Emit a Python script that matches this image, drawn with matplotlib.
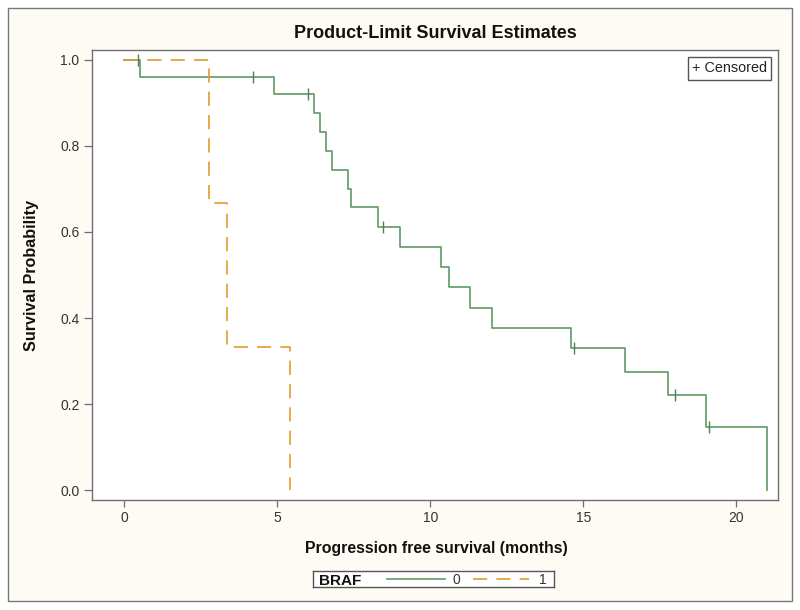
import matplotlib
matplotlib.use("Agg")
import matplotlib.pyplot as plt
from matplotlib.patches import Rectangle
from matplotlib.lines import Line2D

plt.rcParams['font.family'] = ['Liberation Sans', 'DejaVu Sans']

# BRAF = 0 (green, solid): step times and survival after each step
t0 = [0, 0.5, 4.9, 6.2, 6.4, 6.6, 6.8, 7.3, 7.4, 8.3, 9.0, 10.35, 10.6,
      11.3, 12.0, 14.6, 16.35, 17.75, 19.0, 21.0]
s0 = [1.0, 0.96, 0.92, 0.876, 0.832, 0.788, 0.744, 0.701, 0.657, 0.612,
      0.566, 0.519, 0.471, 0.424, 0.377, 0.330, 0.275, 0.220, 0.147, 0.0]
cens_t0 = [0.45, 4.2, 6.0, 8.45, 14.7, 18.0, 19.1]
cens_s0 = [1.0, 0.96, 0.92, 0.612, 0.330, 0.220, 0.147]

# BRAF = 1 (orange, dashed)
t1 = [0, 2.75, 3.36, 5.42]
s1 = [1.0, 0.667, 0.333, 0.0]

xticks = [0, 5, 10, 15, 20]
yticks = [0.0, 0.2, 0.4, 0.6, 0.8, 1.0]

green = '#5f9a62'
orange = '#e39a2d'
cream = '#fefbf4'
grey = '#6e6e6e'
txt = '#333333'

W, H = 800, 610
fig = plt.figure(figsize=(8, 6.1), dpi=100, facecolor='white')

# outer cream frame
fig.patches.append(Rectangle((8 / W, 1 - 601 / H), 784 / W, 593 / H,
                             transform=fig.transFigure, facecolor=cream,
                             edgecolor='#777777', linewidth=1.0, zorder=-10))

ax = fig.add_axes([92 / W, 1 - 500 / H, 686 / W, 450 / H])
ax.set_facecolor('white')

ax.step(t0, s0, where='post', color=green, linewidth=1.2)
ax.step(t1, s1, where='post', color=orange, linewidth=1.2, dashes=(8.5, 5.5))
ax.plot(cens_t0, cens_s0, linestyle='none', marker='|', markersize=8,
        markeredgewidth=1.0, color='#4f7f52')

ax.set_xlim(-1.06, 21.36)
ax.set_ylim(-0.023, 1.023)
ax.set_xticks(xticks)
ax.set_xticklabels([str(v) for v in xticks])
ax.set_yticks(yticks)
ax.set_yticklabels([f'{v:.1f}' for v in yticks])
ax.tick_params(direction='out', width=0.9, color=grey,
               labelsize=10, labelcolor=txt, pad=3)
ax.tick_params(axis='y', length=6)
ax.tick_params(axis='x', length=5)
for sp in ax.spines.values():
    sp.set_color(grey)
    sp.set_linewidth(1.0)

# censored box
ax.text(0.984, 0.975, '+ Censored', transform=ax.transAxes, ha='right',
        va='top', fontsize=10.4, color='#222222',
        bbox=dict(boxstyle='square,pad=0.3', facecolor='white',
                  edgecolor='#555555', linewidth=1.0))

fig.text(435 / W, 1 - 33 / H, 'Product-Limit Survival Estimates',
         ha='center', va='center', fontsize=13, fontweight='bold',
         color='#111111')
fig.text(436 / W, 1 - 549 / H, 'Progression free survival (months)',
         ha='center', va='center', fontsize=11.4, fontweight='bold',
         color='#111111')
fig.text(32 / W, 1 - 275 / H, 'Survival Probability', ha='center',
         va='center', rotation=90, fontsize=11.6, fontweight='bold',
         color='#111111')

# bottom legend box
lg = fig.add_axes([313 / W, 1 - 587 / H, 241 / W, 16 / H])
lg.set_xlim(313, 554)
lg.set_ylim(0, 1)
lg.set_xticks([])
lg.set_yticks([])
lg.set_facecolor('white')
for sp in lg.spines.values():
    sp.set_color('#555555')
    sp.set_linewidth(1.0)
lg.text(319, 0.40, 'BRAF', ha='left', va='center', fontsize=11,
        fontweight='bold', color='#111111')
lg.add_line(Line2D([387, 445], [0.5, 0.5], color=green, linewidth=1.2))
lg.text(456, 0.42, '0', ha='center', va='center', fontsize=10, color=txt)
lg.add_line(Line2D([473, 529], [0.5, 0.5], color=orange, linewidth=1.2,
                   dashes=(8.5, 5.5)))
lg.text(543, 0.42, '1', ha='center', va='center', fontsize=10, color=txt)

fig.savefig('out.png', dpi=100, facecolor=fig.get_facecolor())
